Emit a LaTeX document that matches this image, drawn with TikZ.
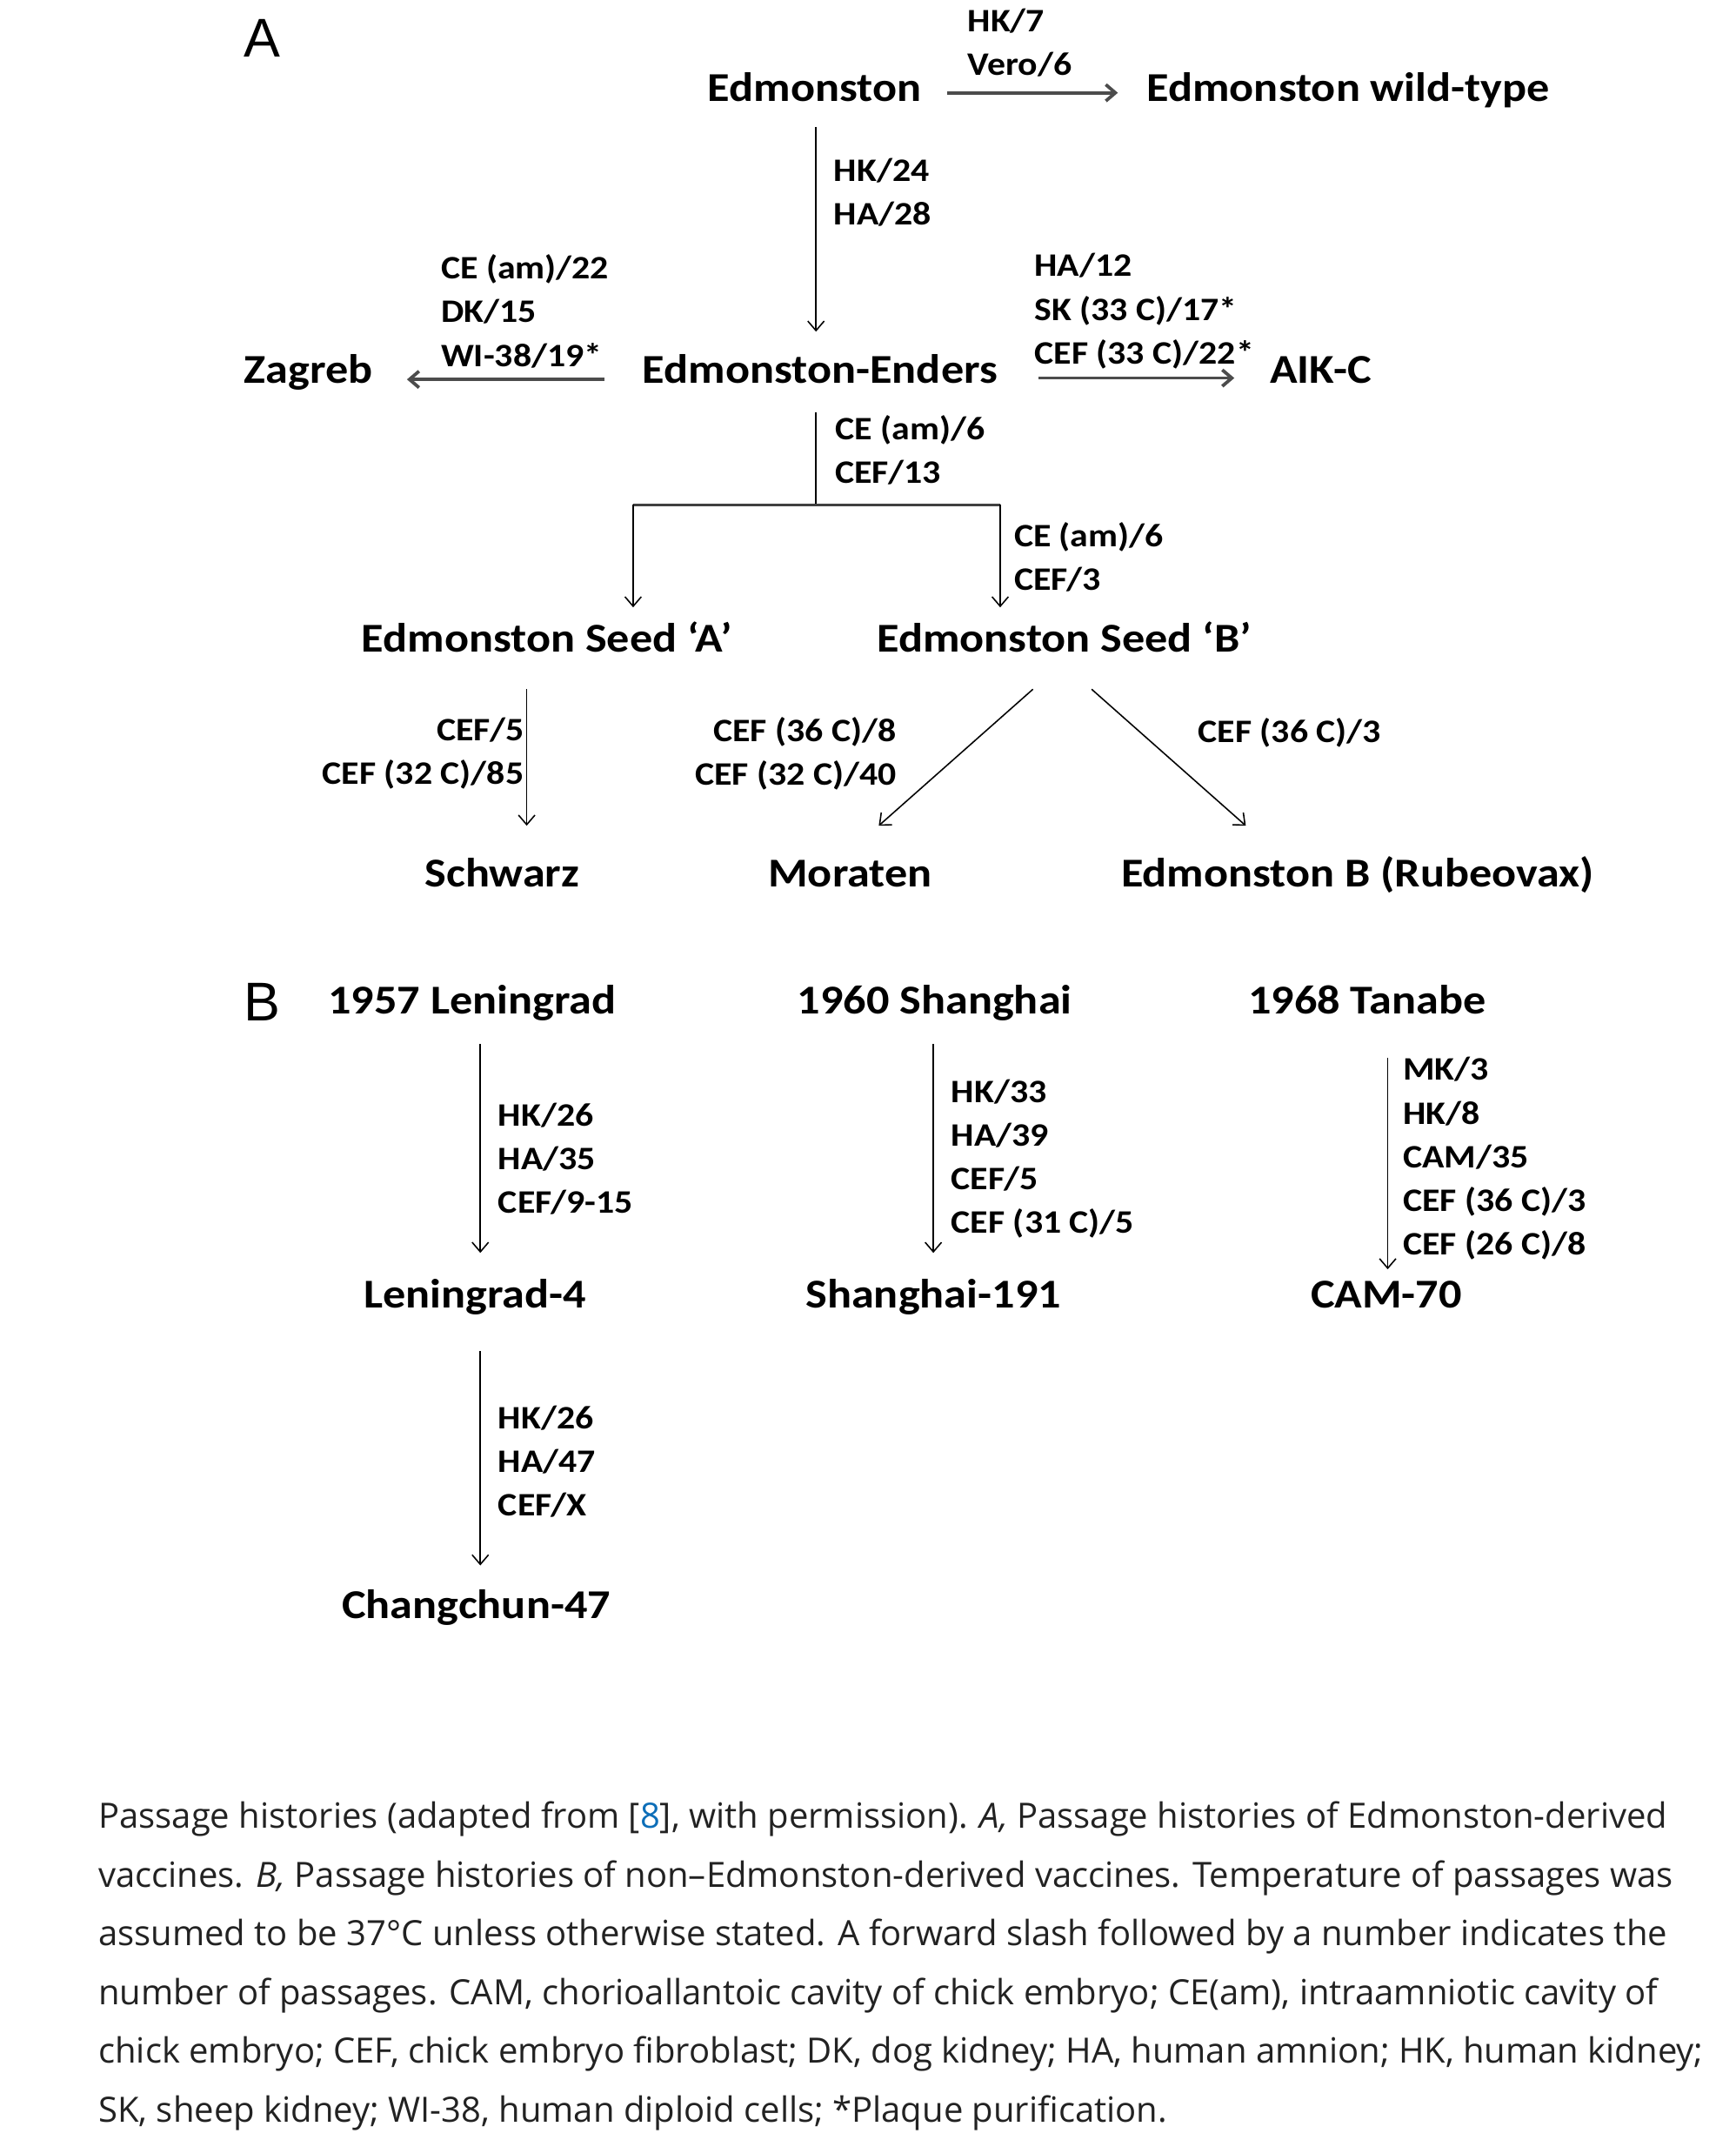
\documentclass[tikz,border=0pt]{standalone}
\usepackage{fontspec}
\setmainfont{Carlito}[FakeStretch=1.11]
\newfontfamily\capfont{Open Sans}
\newfontfamily\panelfont{Liberation Sans}
\usetikzlibrary{arrows.meta}
\definecolor{captext}{HTML}{222222}
\definecolor{reflink}{HTML}{0D6EB8}
\tikzset{
  strain/.style={font=\bfseries\fontsize{30}{36}\selectfont, inner sep=0pt, anchor=base},
  passage/.style={font=\bfseries\fontsize{24}{32}\selectfont, inner sep=0pt, align=left, anchor=west},
  panel/.style={font=\panelfont\fontsize{40}{40}\selectfont, inner sep=0pt},
  link/.style={->, line width=1pt},
  biglink/.style={->, line width=2.4pt, draw=black!70},
  >={Straight Barb[length=7pt,width=12pt]}
}
\begin{document}
\begin{tikzpicture}[x=1pt,y=-1pt]
\fill[white] (0,0) rectangle (1272,1568);
\useasboundingbox (0,0) rectangle (1272,1568);
% panel A
\node[panel] (pA) at (192,28) {A};
\node[strain] (edm) at (597,74) {Edmonston};
\node[strain] (wild) at (988,74) {Edmonston wild-type};
\node[strain] (enders) at (601,281) {Edmonston-Enders};
\node[strain] (zagreb) at (226,281) {Zagreb};
\node[strain] (aikc) at (968,281) {AIK-C};
\node[strain] (seedA) at (401,478) {Edmonston Seed ‘A’};
\node[strain] (seedB) at (780,478) {Edmonston Seed ‘B’};
\node[strain] (schwarz) at (368,650) {Schwarz};
\node[strain] (moraten) at (623,650) {Moraten};
\node[strain] (rubeo) at (995,650) {Edmonston B (Rubeovax)};
% passages, panel A
\node[passage] (pWild) at (709,31.5) {HK/7\\Vero/6};
\node[passage] (pEnders) at (611,141) {HK/24\\HA/28};
\node[passage] (pZagreb) at (323,228) {CE (am)/22\\DK/15\\WI-38/19*};
\node[passage] (pAikc) at (758,228) {HA/12\\SK (33 C)/17*\\CEF (33 C)/22*};
\node[passage] (pStem) at (612,330) {CE (am)/6\\CEF/13};
\node[passage] (pSeedB) at (743,408) {CE (am)/6\\CEF/3};
\node[passage, anchor=east, align=right] (pSchwarz) at (384,552) {CEF/5\\CEF (32 C)/85};
\node[passage, anchor=east, align=right] (pMoraten) at (657,552) {CEF (36 C)/8\\CEF (32 C)/40};
\node[passage] (pRubeo) at (878,537) {CEF (36 C)/3};
\draw[biglink] ([xshift=19pt,yshift=6pt]edm.base east) -- ([xshift=-21pt,yshift=6pt]wild.base west);
\draw[link] ([xshift=1pt,yshift=-19pt]edm.base) -- ([xshift=-3pt,yshift=38pt]enders.base);
\draw[biglink] ([xshift=-28pt,yshift=3pt]enders.base west) -- ([xshift=25pt,yshift=3pt]zagreb.base east);
\draw[biglink] ([xshift=30pt,yshift=4pt]enders.base east) -- ([xshift=-26pt,yshift=4pt]aikc.base west);
\coordinate (split) at (598,370);
\coordinate (forkA) at (464,370);
\coordinate (forkB) at (733,370);
\draw[line width=1pt] ([xshift=-3pt,yshift=-21pt]enders.base) -- (split);
\draw[line width=2.4pt, black!75] (forkA) -- (forkB);
\draw[link, shorten >=33pt] (forkA) -- (forkA |- seedA.base);
\draw[link, shorten >=33pt] (forkB) -- (forkB |- seedB.base);
\draw[link, shorten <=27pt, shorten >=45pt] ([xshift=-15pt]seedA.base) -- ([xshift=18pt]schwarz.base);
\draw[link] ([xshift=-23pt,yshift=-27pt]seedB.base) -- ([xshift=21pt,yshift=45pt]moraten.base);
\draw[link] ([xshift=20pt,yshift=-27pt]seedB.base) -- ([xshift=-82pt,yshift=45pt]rubeo.base);
% panel B
\node[panel] (pB) at (192,734) {B};
\node[strain] (len) at (346,743) {1957 Leningrad};
\node[strain] (sha) at (685,743) {1960 Shanghai};
\node[strain] (tan) at (1002,743) {1968 Tanabe};
\node[strain] (len4) at (348,958) {Leningrad-4};
\node[strain] (sha191) at (684,958) {Shanghai-191};
\node[strain] (cam) at (1016,958) {CAM-70};
\node[strain] (chang) at (349,1186) {Changchun-47};
\node[passage] (pLen) at (365,849) {HK/26\\HA/35\\CEF/9-15};
\node[passage] (pSha) at (697,849) {HK/33\\HA/39\\CEF/5\\CEF (31 C)/5};
\node[passage] (pTan) at (1028,849) {MK/3\\HK/8\\CAM/35\\CEF (36 C)/3\\CEF (26 C)/8};
\node[passage] (pChang) at (365,1071) {HK/26\\HA/47\\CEF/X};
\draw[link] ([xshift=6pt,yshift=-22pt]len.base) -- ([xshift=4pt,yshift=40pt]len4.base);
\draw[link] ([xshift=-1pt,yshift=-22pt]sha.base) -- ([yshift=40pt]sha191.base);
\draw[link] ([xshift=15pt,yshift=-32pt]tan.base) -- ([xshift=1pt,yshift=28pt]cam.base);
\draw[link] ([xshift=4pt,yshift=-32pt]len4.base) -- ([xshift=3pt,yshift=39pt]chang.base);
% caption
\node[anchor=north west, inner sep=0pt, align=left, text=captext,
  font=\capfont\fontsize{25.5}{43}\selectfont] (caption) at (72,1320)
  {Passage histories (adapted from [\textcolor{reflink}{8}], with permission). \textit{A,} Passage histories of Edmonston-derived\\
   vaccines. \textit{B,} Passage histories of non–Edmonston-derived vaccines. Temperature of passages was\\
   assumed to be 37°C unless otherwise stated. A forward slash followed by a number indicates the\\
   number of passages. CAM, chorioallantoic cavity of chick embryo; CE(am), intraamniotic cavity of\\
   chick embryo; CEF, chick embryo fibroblast; DK, dog kidney; HA, human amnion; HK, human kidney;\\
   SK, sheep kidney; WI-38, human diploid cells; *Plaque purification.};
\end{tikzpicture}
\end{document}
